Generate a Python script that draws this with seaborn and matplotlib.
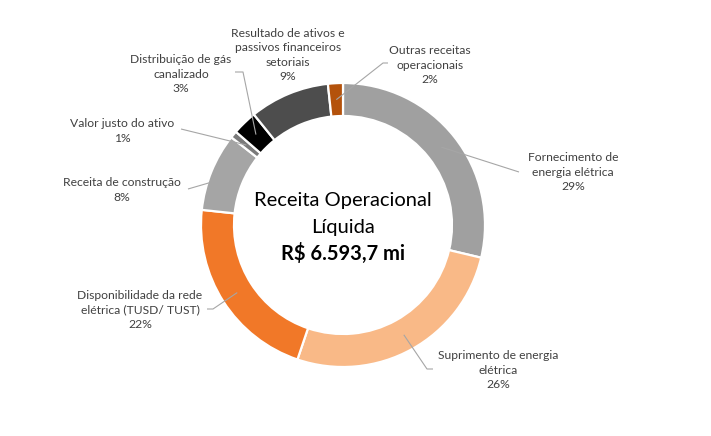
import matplotlib
matplotlib.use("Agg")
import numpy as np
import matplotlib.pyplot as plt
import seaborn as sns

# receita operacional liquida - composicao
categories = [
    "Fornecimento de\nenergia elétrica",
    "Suprimento de energia\nelétrica",
    "Disponibilidade da rede\nelétrica (TUSD/ TUST)",
    "Receita de construção",
    "Valor justo do ativo",
    "Distribuição de gás\ncanalizado",
    "Resultado de ativos e\npassivos financeiros\nsetoriais",
    "Outras receitas\noperacionais",
]
shares = [28.7, 26.5, 21.5, 8.9, 0.8, 2.8, 9.1, 1.7]
pct_labels = ["29%", "26%", "22%", "8%", "1%", "3%", "9%", "2%"]
colors = ["#A0A0A0", "#F9B987", "#F17828", "#A5A5A5",
          "#7B7B7B", "#000000", "#4D4D4D", "#B4520B"]
title_lines = ["Receita Operacional", "Líquida"]
total_label = "R$ 6.593,7 mi"

sns.set_theme(style="white")
plt.rcParams["font.family"] = ["Lato", "DejaVu Sans"]

W, H = 711, 436
fig = plt.figure(figsize=(W / 100, H / 100), dpi=100)
ax = fig.add_axes([0, 0, 1, 1])


def py(y):
    # image pixel row -> axes y
    return H - y


cx, cy = 343, py(225)
r_out, ring = 142, 33

wedges, _ = ax.pie(shares, colors=colors, startangle=90, counterclock=False,
                   radius=r_out, center=(cx, cy),
                   wedgeprops=dict(width=ring, edgecolor="white", linewidth=1.6))
ax.set_xlim(0, W)
ax.set_ylim(0, H)
ax.set_aspect("equal")
ax.axis("off")

# label placement: text centre, then leader path points (image pixels)
layout = [
    ((573, 172), [(519, 172)]),
    ((498, 370), [(427, 369), (433, 369)]),
    ((140, 310), [(213, 309), (207, 309)]),
    ((122, 190), [(188, 189)]),
    ((122, 131), [(181, 129)]),
    ((181, 74), [(243, 72), (235, 72)]),
    ((288, 55), []),
    ((430, 65), [(383, 63), (388, 63)]),
]

r_mid = r_out - ring / 2
for w, cat, pct, (pos, path) in zip(wedges, categories, pct_labels, layout):
    ax.text(pos[0], py(pos[1]), cat + "\n" + pct, ha="center", va="center",
            fontsize=8.7, color="#404040", linespacing=1.38)
    if path:
        mid = np.deg2rad((w.theta1 + w.theta2) / 2)
        xs = [cx + r_mid * np.cos(mid)] + [p[0] for p in path]
        ys = [cy + r_mid * np.sin(mid)] + [py(p[1]) for p in path]
        ax.plot(xs, ys, color="#A6A6A6", lw=0.8, solid_capstyle="butt")

ax.text(cx, py(200), title_lines[0], ha="center", va="center",
        fontsize=14.5, color="#000000")
ax.text(cx, py(227), title_lines[1], ha="center", va="center",
        fontsize=14.5, color="#000000")
ax.text(cx, py(253), total_label, ha="center", va="center",
        fontsize=14.5, fontweight="bold", color="#000000")

fig.savefig("out.png", dpi=100, facecolor="white")
